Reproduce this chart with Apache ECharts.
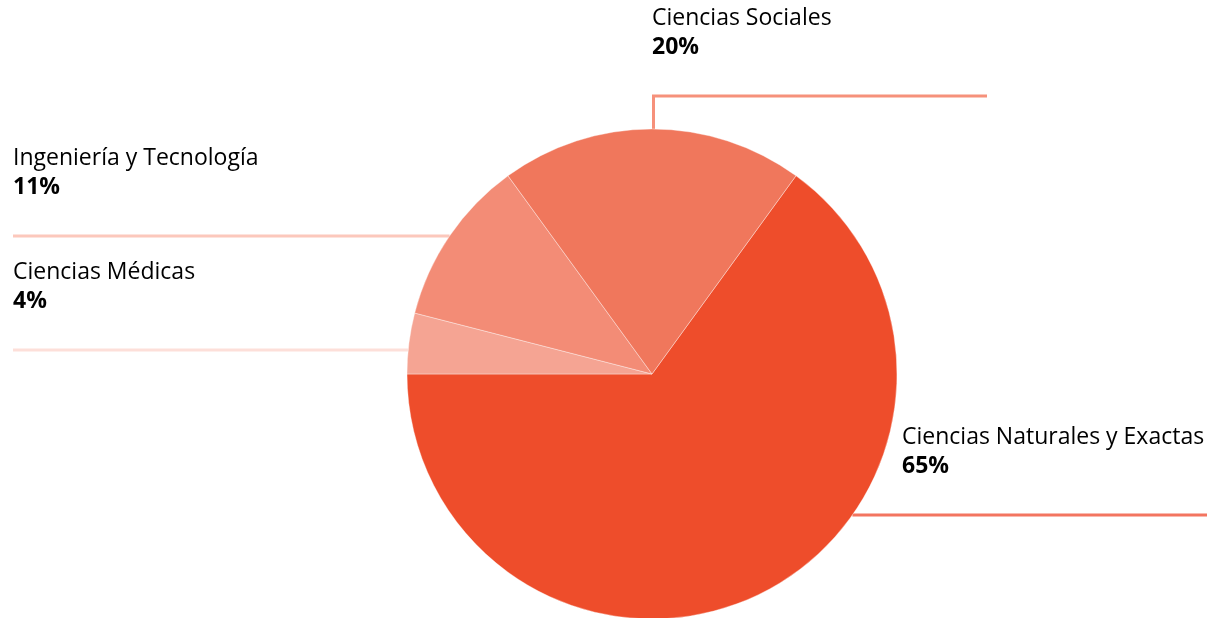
<!DOCTYPE html>
<html>
<head>
<meta charset="utf-8">
<script src="https://cdn.jsdelivr.net/npm/echarts@6/dist/echarts.min.js"></script>
<style>
html,body{margin:0;padding:0;background:#fff;}
#chart{width:1209px;height:618px;}
</style>
</head>
<body>
<div id="chart"></div>
<script>
// Data
const categories = ['Ciencias Naturales y Exactas', 'Ciencias Médicas', 'Ingeniería y Tecnología', 'Ciencias Sociales'];
const values = [65, 4, 11, 20];
const sliceColors = ['#EE4D2B', '#F5A493', '#F38C76', '#F0775C'];
const lineColors = ['#F37560', '#FDDFD9', '#FCC8BC', '#F6917B'];

// Layout (not data)
const CX = 652, CY = 374, R = 245;
// per-label: guide line y, label side, line end x, label anchor x
const labelLayoutCfg = [
  { lineY: 515, side: 'right', endX: 1207, textX: 902 },
  { lineY: 350, side: 'left', endX: 13, textX: 13 },
  { lineY: 236, side: 'left', endX: 13, textX: 13 },
  { lineY: 96, side: 'top', endX: 987, textX: 652 }
];

const chart = echarts.init(document.getElementById('chart'));

function edgeX(y, side) {
  const dy = y - CY;
  const dx = Math.sqrt(Math.max(0, R * R - dy * dy));
  return side === 'left' ? CX - dx : CX + dx;
}

chart.setOption({
  animation: false,
  series: [{
    type: 'pie',
    center: [CX, CY],
    radius: R,
    startAngle: 54,
    clockwise: true,
    data: categories.map((c, i) => ({
      name: c,
      value: values[i],
      itemStyle: { color: sliceColors[i] },
      labelLine: { lineStyle: { color: lineColors[i] } }
    })),
    itemStyle: { borderColor: 'rgba(255,255,255,0.6)', borderWidth: 0.6 },
    label: {
      show: true,
      formatter: '{n|{b}}\n{p|{c}%}',
      align: 'left',
      rich: {
        n: { fontFamily: 'Open Sans', fontSize: 23, color: '#000', lineHeight: 29 },
        p: { fontFamily: 'Open Sans', fontSize: 23, fontWeight: 'bold', color: '#000', lineHeight: 29 }
      }
    },
    labelLine: { show: true, length: 20, length2: 20, smooth: false, lineStyle: { width: 3 } },
    labelLayout: function (params) {
      const cfg = labelLayoutCfg[params.dataIndex];
      const y = cfg.lineY;
      let pts;
      if (cfg.side === 'top') {
        pts = [[CX + 1.5, CY - R], [CX + 1.5, y], [cfg.endX, y]];
      } else {
        const sx = edgeX(y, cfg.side);
        pts = [[sx, y], [sx, y], [cfg.endX, y]];
      }
      return {
        x: cfg.textX,
        y: y - 34,
        align: 'left',
        verticalAlign: 'bottom',
        labelLinePoints: pts
      };
    },
    emphasis: { disabled: true }
  }]
});
</script>
</body>
</html>
